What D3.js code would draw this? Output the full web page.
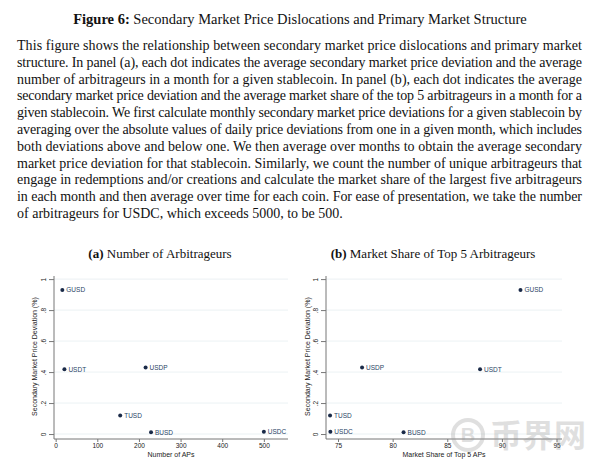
<!DOCTYPE html>
<html><head><meta charset="utf-8">
<script src="https://cdn.jsdelivr.net/npm/d3@7/dist/d3.min.js"></script>
<style>body{margin:0;background:#fff}svg{display:block}</style>
</head><body><svg id="c" width="600" height="473"></svg>
<script>
const coins = ["GUSD","USDT","USDP","TUSD","BUSD","USDC"];
const deviation = [0.929, 0.418, 0.430, 0.119, 0.011, 0.015];
const numAPs = [16, 21, 216, 155, 229, 500];
const top5Share = [91.7, 88.0, 77.2, 74.27, 81.0, 74.3];
const yTicks = [0, 0.2, 0.4, 0.6, 0.8, 1];
const yTickLabels = ["0", ".2", ".4", ".6", ".8", "1"];
const xTicksA = [0, 100, 200, 300, 400, 500];
const xTicksB = [75, 80, 85, 90, 95];
const paragraph = [
"This figure shows the relationship between secondary market price dislocations and primary market",
"structure. In panel (a), each dot indicates the average secondary market price deviation and the average",
"number of arbitrageurs in a month for a given stablecoin. In panel (b), each dot indicates the average",
"secondary market price deviation and the average market share of the top 5 arbitrageurs in a month for a",
"given stablecoin. We first calculate monthly secondary market price deviations for a given stablecoin by",
"averaging over the absolute values of daily price deviations from one in a given month, which includes",
"both deviations above and below one. We then average over months to obtain the average secondary",
"market price deviation for that stablecoin. Similarly, we count the number of unique arbitrageurs that",
"engage in redemptions and/or creations and calculate the market share of the largest five arbitrageurs",
"in each month and then average over time for each coin. For ease of presentation, we take the number",
"of arbitrageurs for USDC, which exceeds 5000, to be 500."
];

const svg = d3.select("#c");
const serif = "'Liberation Serif','Times New Roman',serif";
const sans = "'Liberation Sans',Arial,sans-serif";

// Title
const t = svg.append("text").attr("x",300).attr("y",24).attr("text-anchor","middle")
  .attr("font-family",serif).attr("font-size",14.5).attr("fill","#111");
t.append("tspan").attr("font-weight","bold").text("Figure 6:");
t.append("tspan").text(" Secondary Market Price Dislocations and Primary Market Structure");

// Paragraph
const left = 17, right = 582;
paragraph.forEach((line,i)=>{
  const el = svg.append("text").attr("x",left).attr("y",50 + i*16.8)
    .attr("font-family",serif).attr("font-size",14).attr("fill","#111").text(line);
  if (i < paragraph.length-1) el.attr("textLength", right-left).attr("lengthAdjust","spacing");
});

function panel(cfg){
  const g = svg.append("g");
  const x = d3.scaleLinear().domain(cfg.xDomain).range([cfg.x0, cfg.x1]);
  const y = d3.scaleLinear().domain([-0.032, 1.02]).range([439, 276]);
  // title
  const tt = g.append("text").attr("x",cfg.titleX).attr("y",258).attr("text-anchor","middle")
    .attr("font-family",serif).attr("font-size",13).attr("fill","#111");
  tt.append("tspan").attr("font-weight","bold").text(cfg.tag);
  tt.append("tspan").text(" "+cfg.title);
  // gridlines
  g.selectAll(".grid").data(yTicks).join("line")
    .attr("x1",cfg.x0).attr("x2",cfg.x1).attr("y1",d=>y(d)).attr("y2",d=>y(d))
    .attr("stroke","#e6eef0").attr("stroke-width",0.8);
  // y axis
  const ya = g.append("g").attr("transform",`translate(${cfg.x0},0)`)
    .call(d3.axisLeft(y).tickValues(yTicks).tickFormat((d,i)=>yTickLabels[i]).tickSize(5).tickPadding(3));
  ya.select(".domain").attr("stroke","#777").attr("d",`M0,${y.range()[0]}V${y.range()[1]}`);
  ya.selectAll(".tick line").attr("stroke","#777");
  ya.selectAll(".tick text").attr("font-family",sans).attr("font-size",6.5).attr("fill","#222")
    .attr("transform","rotate(-90)").attr("text-anchor","middle").attr("dy",null)
    .attr("x",0).attr("y",-8);
  // x axis
  const xa = g.append("g").attr("transform",`translate(0,439)`)
    .call(d3.axisBottom(x).tickValues(cfg.xTicks).tickSize(3).tickPadding(1.5));
  xa.select(".domain").attr("stroke","#777").attr("d",`M${cfg.x0},0H${cfg.x1}`);
  xa.selectAll(".tick line").attr("stroke","#777");
  xa.selectAll(".tick text").attr("font-family",sans).attr("font-size",6.5).attr("fill","#222");
  // axis titles
  g.append("text").attr("x",(cfg.x0+cfg.x1)/2).attr("y",457).attr("text-anchor","middle")
    .attr("font-family",sans).attr("font-size",7).attr("fill","#222").text(cfg.xTitle);
  g.append("text").attr("transform",`translate(${cfg.yTitleX},${y(0.5)}) rotate(-90)`).attr("text-anchor","middle")
    .attr("font-family",sans).attr("font-size",7).attr("fill","#222").text("Secondary Market Price Deviation (%)");
  // points
  const data = coins.map((c,i)=>({c, xv: cfg.xVals[i], yv: deviation[i]}));
  g.selectAll(".dot").data(data).join("circle")
    .attr("cx",d=>x(d.xv)).attr("cy",d=>y(d.yv)).attr("r",2).attr("fill","#1a2a48");
  g.selectAll(".lab").data(data).join("text")
    .attr("x",d=>x(d.xv)+4).attr("y",d=>y(d.yv)+2.3)
    .attr("font-family",sans).attr("font-size",6.5).attr("fill","#2a4466").text(d=>d.c);
}

panel({xDomain:[-4,558], x0:54, x1:288, xTicks:xTicksA, xVals:numAPs,
  tag:"(a)", title:"Number of Arbitrageurs", titleX:160, xTitle:"Number of APs", yTitleX:37});
panel({xDomain:[73.9,95.5], x0:326, x1:562, xTicks:xTicksB, xVals:top5Share,
  tag:"(b)", title:"Market Share of Top 5 Arbitrageurs", titleX:433, xTitle:"Market Share of Top 5 APs", yTitleX:310});

// watermark
const wm = svg.append("g").attr("opacity",0.3);
wm.append("circle").attr("cx",468).attr("cy",435).attr("r",15).attr("fill","none").attr("stroke","#999").attr("stroke-width",4);
wm.append("text").attr("x",468).attr("y",442).attr("text-anchor","middle").attr("font-family",sans)
  .attr("font-weight","bold").attr("font-size",20).attr("fill","#999").text("B");
wm.append("text").attr("x",490).attr("y",447).attr("font-family","'Noto Sans CJK SC',sans-serif")
  .attr("font-weight","bold").attr("font-size",32).attr("fill","#999").text("币界网");
</script></body></html>
